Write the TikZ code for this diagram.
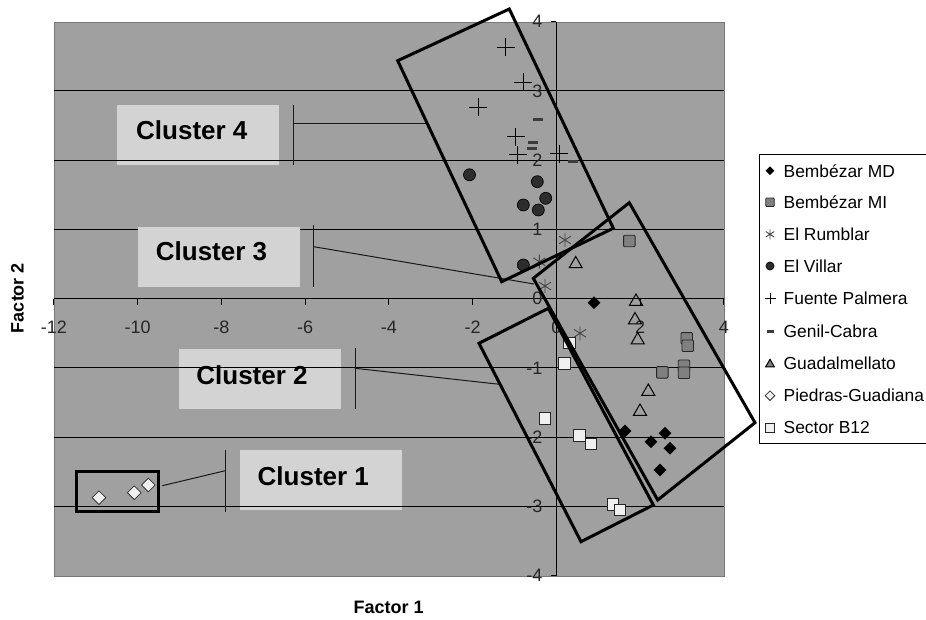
\documentclass[tikz,border=0pt]{standalone}
\usepackage{fontspec}
\setmainfont{Liberation Sans}
\usetikzlibrary{shapes.geometric}
\definecolor{plotbg}{RGB}{160,160,160}
\definecolor{boxbg}{RGB}{211,211,211}
\definecolor{migray}{RGB}{128,128,128}
\definecolor{villar}{RGB}{45,45,45}
\definecolor{rumblar}{RGB}{70,70,70}
\definecolor{genil}{RGB}{60,60,60}
\definecolor{paper}{RGB}{240,240,240}
\definecolor{frame}{RGB}{120,120,120}
\begin{document}
\begin{tikzpicture}[x=1pt,y=-1pt,
  gridl/.style={black, line width=1pt},
  axl/.style={black, line width=1pt},
  ticklab/.style={font=\fontsize{18}{20}\selectfont, inner sep=0, text=black!85},
  axtitle/.style={font=\fontsize{18}{20}\selectfont\bfseries, inner sep=0},
  lbox/.style={fill=boxbg, minimum width=162pt, minimum height=60pt, inner sep=0},
  ltext/.style={font=\fontsize{26}{28}\selectfont\bfseries, inner sep=0},
  leader/.style={black!90, line width=1pt},
  clusterrect/.style={black, line width=3pt, line join=miter},
  legtext/.style={font=\fontsize{17.4}{20}\selectfont, inner sep=0, anchor=west},
  mdiam/.style={diamond, fill=black, inner sep=0, minimum size=#1},
  mdiam/.default=13pt,
  mwdiam/.style={diamond, fill=paper, draw=black!80, line width=0.8pt, inner sep=0, minimum size=#1},
  mwdiam/.default=14pt,
  msqmi/.style={rectangle, fill=migray, draw=black!85, line width=0.9pt, rounded corners=1pt, inner sep=0, minimum size=#1},
  msqmi/.default=11.5pt,
  mwsq/.style={rectangle, fill=paper, draw=black!85, line width=0.9pt, inner sep=0, minimum size=#1},
  mwsq/.default=11.5pt,
  mcirc/.style={circle, fill=villar, draw=black, line width=0.7pt, inner sep=0, minimum size=#1},
  mcirc/.default=12pt,
  mtri/.style={regular polygon, regular polygon sides=3, draw=black, line width=1pt, inner sep=0, minimum size=#1},
  mtri/.default=15pt,
  mdashm/.style={rectangle, fill=genil, inner sep=0, minimum width=#1, minimum height=3pt},
  mdashm/.default=10pt,
  mplus/.style={rectangle, inner sep=0, minimum size=20pt, path picture={
     \draw[black, line width=1pt]
       ([yshift=#1]path picture bounding box.center) -- ([yshift=-#1]path picture bounding box.center)
       ([xshift=#1]path picture bounding box.center) -- ([xshift=-#1]path picture bounding box.center);}},
  mplus/.default=9pt,
  mstar/.style={rectangle, inner sep=0, minimum size=18pt, path picture={
     \draw[rumblar, line width=0.9pt]
       ([yshift=#1]path picture bounding box.center) -- ([yshift=-#1]path picture bounding box.center)
       ([xshift=0.85*#1, yshift=0.55*#1]path picture bounding box.center) -- ([xshift=-0.85*#1, yshift=-0.55*#1]path picture bounding box.center)
       ([xshift=-0.85*#1, yshift=0.55*#1]path picture bounding box.center) -- ([xshift=0.85*#1, yshift=-0.55*#1]path picture bounding box.center);}},
  mstar/.default=7pt
]
\useasboundingbox (0,0) rectangle (926,620);
\fill[white] (0,0) rectangle (926,620);

% plot area
\node[fill=plotbg, draw=frame, line width=1pt, anchor=north west, minimum width=670pt, minimum height=554pt, inner sep=0] (plot) at (54.3,21.7) {};

% label boxes under gridlines
\node[lbox] (c4box) at (198.3,135) {};
\node[lbox] (c2box) at (259.5,379) {};
\node[lbox] (c1box) at (320.5,480.3) {};

% gridlines
\foreach \v in {3,2,1,-1,-2,-3}
  \draw[gridl] (54.3,{298.7-69.25*\v}) -- (724.3,{298.7-69.25*\v});

% label box above its gridline
\node[lbox] (c3box) at (218.8,256.7) {};

% axes
\draw[axl] (54.3,298.7) -- (724.3,298.7);
\draw[axl] (556.3,21.7) -- (556.3,575.7);
\foreach \u in {-12,-10,...,4}
  \draw[axl] ({556.3+41.87*\u},298.7) -- ({556.3+41.87*\u},304.5);
\foreach \v in {-4,...,4}
  \draw[axl] (551,{298.7-69.25*\v}) -- (556.3,{298.7-69.25*\v});

% tick labels
\foreach \u in {-12,-10,...,4}
  \node[ticklab] (xl\u) at ({556.3+41.87*\u},327) {\u};
\foreach \v in {-4,...,4}
  \node[ticklab, anchor=east] (yl\v) at (542.5,{298.7-69.25*\v}) {\v};

% axis titles
\node[axtitle, rotate=90] (f2) at (17.5,298) {Factor 2};
\node[axtitle] (f1) at (388.7,607.3) {Factor 1};

% cluster labels
\node[ltext] (c4) at (191.8,130) {Cluster 4};
\node[ltext] (c3) at (211.5,251.7) {Cluster 3};
\node[ltext] (c2) at (252,375) {Cluster 2};
\node[ltext] (c1) at (313.3,476.7) {Cluster 1};

% cluster rectangle corners
\coordinate (r4a) at (397.7,60.7);
\coordinate (r4b) at (509.3,9);
\coordinate (r4c) at (613.3,228.3);
\coordinate (r4d) at (501.7,281.7);
\coordinate (r3a) at (533.3,278.3);
\coordinate (r3b) at (629.3,202.7);
\coordinate (r3c) at (755,422.7);
\coordinate (r3d) at (657.7,500);
\coordinate (r2a) at (479,343.3);
\coordinate (r2b) at (548.3,308.3);
\coordinate (r2c) at (653.3,505);
\coordinate (r2d) at (581,541.7);
\coordinate (r1a) at (76.3,471);
\coordinate (r1c) at (158.3,511);

% leaders
\coordinate (c4t) at (293.3,105); \coordinate (c4u) at (293.3,165);
\coordinate (c4j) at (293.3,124); \coordinate (c4e) at (427.3,124);
\coordinate (c3t) at (313.7,225.3); \coordinate (c3u) at (313.7,287.3);
\coordinate (c3j) at (313.7,246.7); \coordinate (c3e) at (534,284);
\coordinate (c2t) at (355,348.3); \coordinate (c2u) at (355,409.3);
\coordinate (c2j) at (355,368.3); \coordinate (c2e) at (499.5,384.3);
\coordinate (c1t) at (225.3,450); \coordinate (c1u) at (225.3,511.7);
\coordinate (c1j) at (225.3,470.7); \coordinate (c1e) at (162.3,485.7);
\foreach \c in {c4,c3,c2,c1} {
  \draw[leader] (\c t) -- (\c u);
  \draw[leader] (\c j) -- (\c e);
}

% data: Fuente Palmera
\foreach \x/\y [count=\i] in {505.7/47.3, 523.3/82.3, 478.3/107.3, 515.7/136.7, 517.7/155, 559.3/154}
  \node[mplus] (fp\i) at (\x,\y) {};
% Genil-Cabra
\foreach \x/\y [count=\i] in {537.7/119.3, 533.3/142.7, 531.7/148.3, 572.7/161.7}
  \node[mdashm] (gc\i) at (\x,\y) {};
% El Villar
\foreach \x/\y [count=\i] in {469.5/174.8, 537.3/181.7, 545.7/198.3, 523.3/205, 538.3/210, 523.3/265}
  \node[mcirc] (ev\i) at (\x,\y) {};
% El Rumblar
\foreach \x/\y [count=\i] in {565/240, 539.3/261.7, 545/286, 580/333.3}
  \node[mstar] (er\i) at (\x,\y) {};
% Guadalmellato
\foreach \x/\y [count=\i] in {575.7/264, 636/301.5, 635/320, 637.7/340, 648.3/391.5, 640/411.5}
  \node[mtri] (gu\i) at (\x,\y) {};
% Bembezar MI
\foreach \x/\y [count=\i] in {629.3/241, 686.7/338.3, 687.7/345.7, 662.3/372.3, 684/365.7, 684/372.7}
  \node[msqmi] (mi\i) at (\x,\y) {};
% Bembezar MD
\foreach \x/\y [count=\i] in {594/302.7, 625/431, 665/433.3, 651/441.7, 670/448.3, 660/470}
  \node[mdiam] (md\i) at (\x,\y) {};
% Piedras-Guadiana
\foreach \x/\y [count=\i] in {99/497.7, 134.3/492.7, 148.3/485}
  \node[mwdiam] (pg\i) at (\x,\y) {};
% Sector B12
\foreach \x/\y [count=\i] in {569.3/342.7, 564.3/363.3, 545/418.3, 579.3/435.3, 591/444, 612.7/504.3, 620/510}
  \node[mwsq] (sb\i) at (\x,\y) {};

% cluster rectangles
\draw[clusterrect] (r4a) -- (r4b) -- (r4c) -- (r4d) -- cycle;
\draw[clusterrect] (r3a) -- (r3b) -- (r3c) -- (r3d) -- cycle;
\draw[clusterrect] (r2a) -- (r2b) -- (r2c) -- (r2d) -- cycle;
\draw[clusterrect] (r1a) rectangle (r1c);

% legend
\node[draw=black, fill=white, line width=1pt, anchor=north west, minimum width=200pt, minimum height=289pt, inner sep=0] (legend) at (759.3,154.3) {};
\node[mdiam=9pt] (lg1) at (770,170.7) {};
\node[msqmi=8.5pt] (lg2) at (770,202.3) {};
\node[mstar=5pt] (lg3) at (770,234.3) {};
\node[mcirc=8pt] (lg4) at (770,266) {};
\node[mplus=5.5pt] (lg5) at (770,298.3) {};
\node[mdashm=7pt] (lg6) at (770,331.7) {};
\node[mtri=10pt, fill=migray] (lg7) at (770,364.3) {};
\node[mwdiam=10pt] (lg8) at (770,395.7) {};
\node[mwsq=8.5pt] (lg9) at (770,427.7) {};
\node[legtext] (lt1) at (783.5,170.7) {Bembézar MD};
\node[legtext] (lt2) at (783.5,202.3) {Bembézar MI};
\node[legtext] (lt3) at (783.5,234.3) {El Rumblar};
\node[legtext] (lt4) at (783.5,266) {El Villar};
\node[legtext] (lt5) at (783.5,298.3) {Fuente Palmera};
\node[legtext] (lt6) at (783.5,331.7) {Genil-Cabra};
\node[legtext] (lt7) at (783.5,363.3) {Guadalmellato};
\node[legtext] (lt8) at (783.5,395.7) {Piedras-Guadiana};
\node[legtext] (lt9) at (783.5,427.7) {Sector B12};
\end{tikzpicture}
\end{document}
